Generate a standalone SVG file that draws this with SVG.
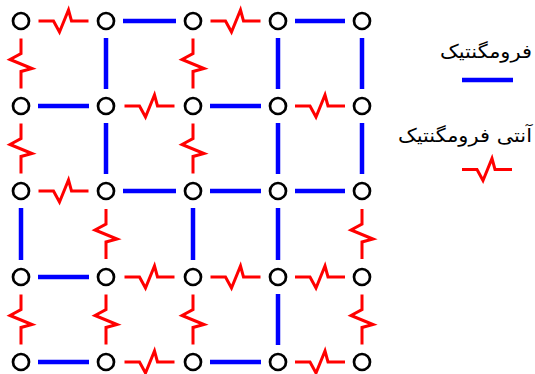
<svg xmlns="http://www.w3.org/2000/svg" xmlns:xlink="http://www.w3.org/1999/xlink" width="535" height="374" viewBox="0 0 535 374">
  <defs>
    <style>
      .node { fill: #ffffff; stroke: #000000; stroke-width: 2.7; }
      .fm { stroke: #0000ff; stroke-width: 4.5; fill: none; }
      .afm { stroke: #ff0000; stroke-width: 3; fill: none; stroke-linejoin: miter; }
      .lbl { font-family: "DejaVu Sans", sans-serif; font-size: 19px; fill: #000000; }
    </style>
    <path id="zh" class="afm" d="M-25,0 H-10 L-4,11 L5,-11 L8,0 H25"/>
  </defs>
  <rect width="535" height="374" fill="#ffffff"/>

  <g id="connectors">
    <!-- ferromagnetic horizontal -->
    <line class="fm" x1="123" y1="21" x2="176" y2="21"/>
    <line class="fm" x1="295" y1="21" x2="345" y2="21"/>
    <line class="fm" x1="38" y1="106" x2="89" y2="106"/>
    <line class="fm" x1="210" y1="106" x2="261" y2="106"/>
    <line class="fm" x1="123" y1="191" x2="176" y2="191"/>
    <line class="fm" x1="210" y1="191" x2="261" y2="191"/>
    <line class="fm" x1="295" y1="191" x2="345" y2="191"/>
    <line class="fm" x1="38" y1="277" x2="89" y2="277"/>
    <line class="fm" x1="38" y1="362" x2="89" y2="362"/>
    <line class="fm" x1="210" y1="362" x2="261" y2="362"/>
    <!-- ferromagnetic vertical -->
    <line class="fm" x1="106" y1="38" x2="106" y2="89"/>
    <line class="fm" x1="278" y1="38" x2="278" y2="89"/>
    <line class="fm" x1="362" y1="38" x2="362" y2="89"/>
    <line class="fm" x1="106" y1="123" x2="106" y2="174"/>
    <line class="fm" x1="278" y1="123" x2="278" y2="174"/>
    <line class="fm" x1="362" y1="123" x2="362" y2="174"/>
    <line class="fm" x1="21" y1="208" x2="21" y2="260"/>
    <line class="fm" x1="193" y1="208" x2="193" y2="260"/>
    <line class="fm" x1="278" y1="208" x2="278" y2="260"/>
    <line class="fm" x1="278" y1="294" x2="278" y2="345"/>
    <!-- antiferromagnetic horizontal -->
    <use xlink:href="#zh" href="#zh" transform="translate(63.5,21)"/>
    <use xlink:href="#zh" href="#zh" transform="translate(235.5,21)"/>
    <use xlink:href="#zh" href="#zh" transform="translate(149.5,106)"/>
    <use xlink:href="#zh" href="#zh" transform="translate(320,106)"/>
    <use xlink:href="#zh" href="#zh" transform="translate(63.5,191)"/>
    <use xlink:href="#zh" href="#zh" transform="translate(149.5,277)"/>
    <use xlink:href="#zh" href="#zh" transform="translate(235.5,277)"/>
    <use xlink:href="#zh" href="#zh" transform="translate(320,277)"/>
    <use xlink:href="#zh" href="#zh" transform="translate(149.5,362)"/>
    <use xlink:href="#zh" href="#zh" transform="translate(320,362)"/>
    <!-- antiferromagnetic vertical -->
    <use xlink:href="#zh" href="#zh" transform="translate(21,63.5) rotate(90)"/>
    <use xlink:href="#zh" href="#zh" transform="translate(193,63.5) rotate(90)"/>
    <use xlink:href="#zh" href="#zh" transform="translate(21,148.5) rotate(90)"/>
    <use xlink:href="#zh" href="#zh" transform="translate(193,148.5) rotate(90)"/>
    <use xlink:href="#zh" href="#zh" transform="translate(106,234) rotate(90)"/>
    <use xlink:href="#zh" href="#zh" transform="translate(362,234) rotate(90)"/>
    <use xlink:href="#zh" href="#zh" transform="translate(21,319.5) rotate(90)"/>
    <use xlink:href="#zh" href="#zh" transform="translate(106,319.5) rotate(90)"/>
    <use xlink:href="#zh" href="#zh" transform="translate(193,319.5) rotate(90)"/>
    <use xlink:href="#zh" href="#zh" transform="translate(362,319.5) rotate(90)"/>
  </g>

  <g id="nodes">
    <g id="n00"><circle class="node" cx="21" cy="21" r="8"/></g>
    <g id="n01"><circle class="node" cx="106" cy="21" r="8"/></g>
    <g id="n02"><circle class="node" cx="193" cy="21" r="8"/></g>
    <g id="n03"><circle class="node" cx="278" cy="21" r="8"/></g>
    <g id="n04"><circle class="node" cx="362" cy="21" r="8"/></g>
    <g id="n10"><circle class="node" cx="21" cy="106" r="8"/></g>
    <g id="n11"><circle class="node" cx="106" cy="106" r="8"/></g>
    <g id="n12"><circle class="node" cx="193" cy="106" r="8"/></g>
    <g id="n13"><circle class="node" cx="278" cy="106" r="8"/></g>
    <g id="n14"><circle class="node" cx="362" cy="106" r="8"/></g>
    <g id="n20"><circle class="node" cx="21" cy="191" r="8"/></g>
    <g id="n21"><circle class="node" cx="106" cy="191" r="8"/></g>
    <g id="n22"><circle class="node" cx="193" cy="191" r="8"/></g>
    <g id="n23"><circle class="node" cx="278" cy="191" r="8"/></g>
    <g id="n24"><circle class="node" cx="362" cy="191" r="8"/></g>
    <g id="n30"><circle class="node" cx="21" cy="277" r="8"/></g>
    <g id="n31"><circle class="node" cx="106" cy="277" r="8"/></g>
    <g id="n32"><circle class="node" cx="193" cy="277" r="8"/></g>
    <g id="n33"><circle class="node" cx="278" cy="277" r="8"/></g>
    <g id="n34"><circle class="node" cx="362" cy="277" r="8"/></g>
    <g id="n40"><circle class="node" cx="21" cy="362" r="8"/></g>
    <g id="n41"><circle class="node" cx="106" cy="362" r="8"/></g>
    <g id="n42"><circle class="node" cx="193" cy="362" r="8"/></g>
    <g id="n43"><circle class="node" cx="278" cy="362" r="8"/></g>
    <g id="n44"><circle class="node" cx="362" cy="362" r="8"/></g>
  </g>

  <g id="legend">
    <text class="lbl" x="532" y="58" text-anchor="end" textLength="92" lengthAdjust="spacingAndGlyphs">فرومگنتیک</text>
    <line class="fm" x1="462" y1="80" x2="513" y2="80"/>
    <text class="lbl" x="532" y="142" text-anchor="end" textLength="134" lengthAdjust="spacingAndGlyphs">آنتی فرومگنتیک</text>
    <use xlink:href="#zh" href="#zh" transform="translate(487,169.5)"/>
  </g>
</svg>
